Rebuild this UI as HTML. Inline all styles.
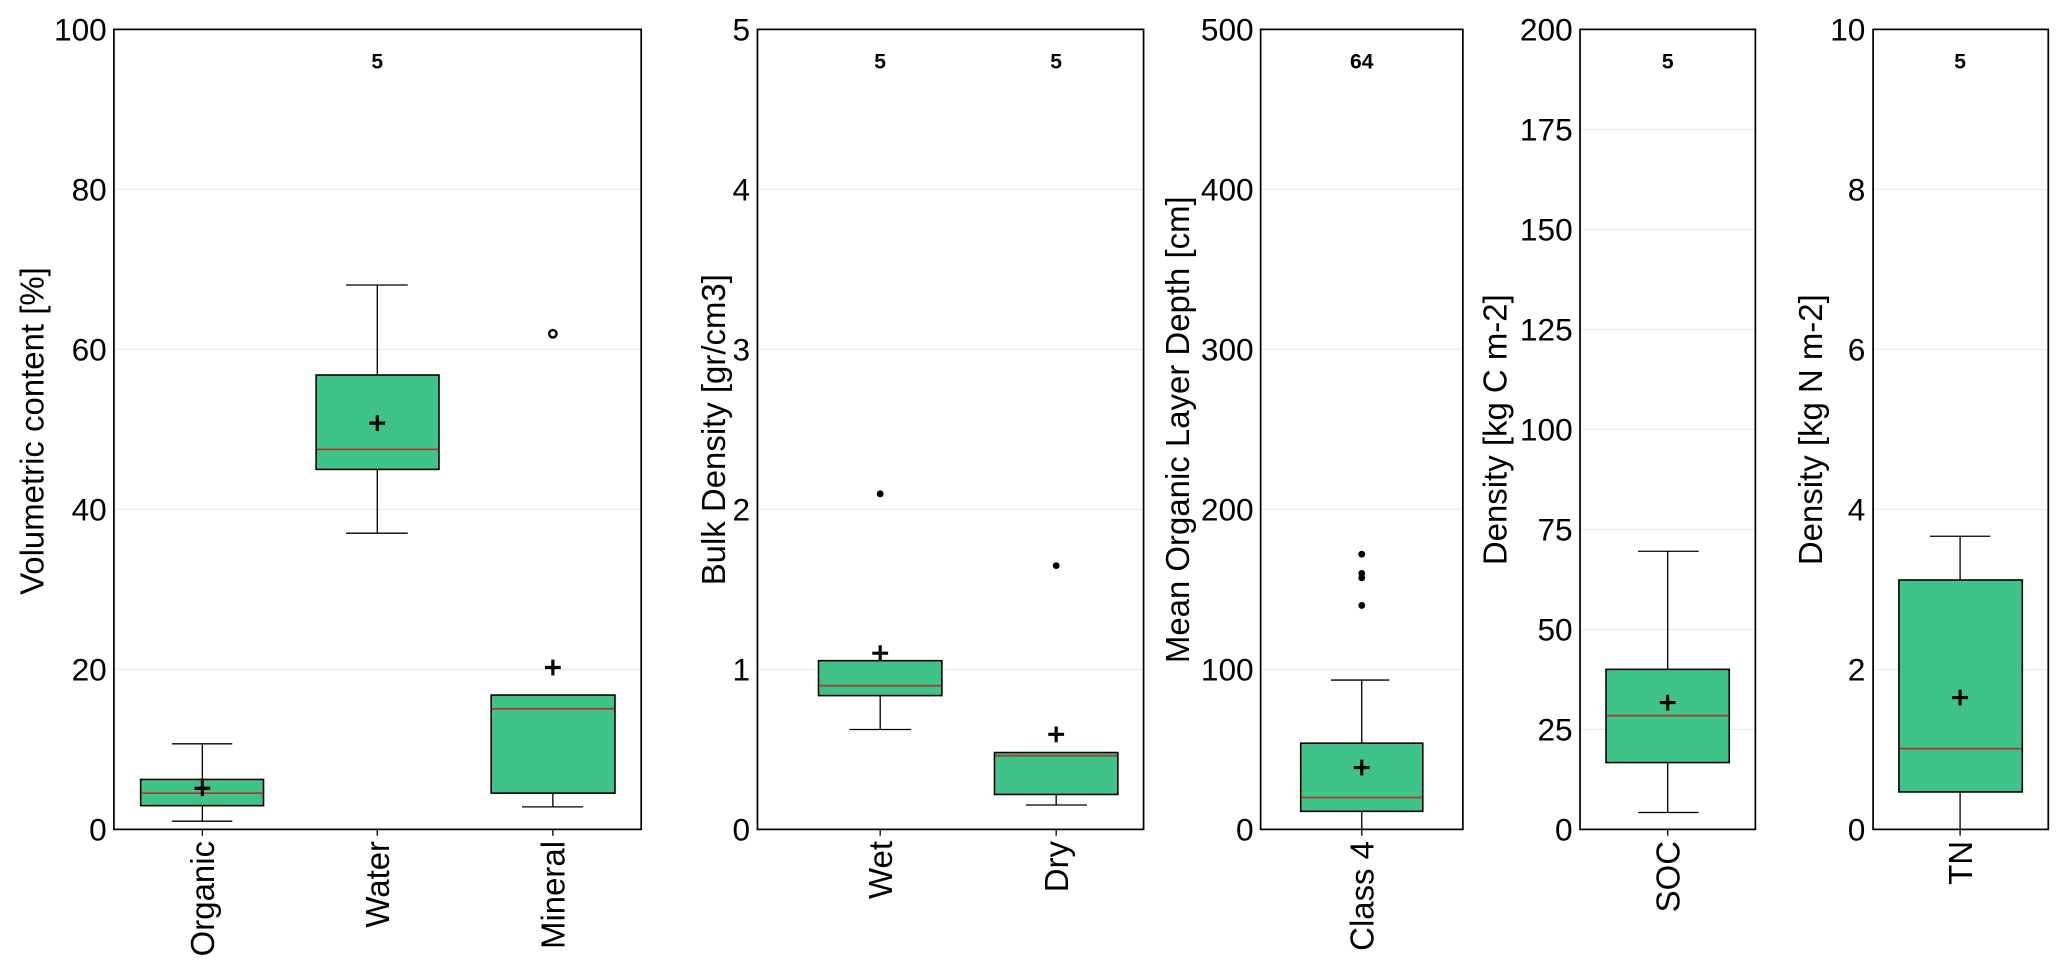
<!DOCTYPE html>
<html><head><meta charset="utf-8"><style>
html,body{margin:0;padding:0;background:#fff;}
svg{display:block;}
text{font-family:"Liberation Sans",Arial,sans-serif;fill:#000;}
.t{font-size:24px;text-anchor:end;dominant-baseline:central;}
.lab{font-size:25px;}
.n{font-size:16px;font-weight:bold;text-anchor:middle;}
.g{stroke:#ececec;stroke-width:1;}
.ax{fill:none;stroke:#000;stroke-width:1.3;}
.bx{fill:#40c389;stroke:#000;stroke-width:1.2;}
.md{stroke:#a0402d;stroke-width:1.4;}
.w{stroke:#000;stroke-width:1;}
.m{stroke:#000;stroke-width:2.4;}
</style></head><body>
<svg width="2067" height="979" viewBox="0 0 1568 742.7" preserveAspectRatio="none" xmlns="http://www.w3.org/2000/svg">
<rect width="1568" height="742.7" fill="#fff"/>

<!-- Panel 1 -->
<g class="g"><line x1="87" x2="486" y1="507.8" y2="507.8"/><line x1="87" x2="486" y1="386.4" y2="386.4"/><line x1="87" x2="486" y1="265" y2="265"/><line x1="87" x2="486" y1="143.6" y2="143.6"/></g>
<text class="t" x="81" y="629.2">0</text><text class="t" x="81" y="507.8">20</text><text class="t" x="81" y="386.4">40</text><text class="t" x="81" y="265">60</text><text class="t" x="81" y="143.6">80</text><text class="t" x="81" y="22.3">100</text>
<text class="lab" transform="translate(33,327) rotate(-90)" text-anchor="middle">Volumetric content [%]</text>
<text class="n" x="286.2" y="52">5</text>
<!-- Organic -->
<line class="w" x1="153.5" x2="153.5" y1="564.3" y2="623"/><line class="w" x1="130.4" x2="176.2" y1="564.3" y2="564.3"/><line class="w" x1="130.4" x2="176.2" y1="623" y2="623"/>
<rect class="bx" x="106.7" y="591.3" width="93.2" height="19.9"/><line class="md" x1="107" x2="199.6" y1="601.7" y2="601.7"/>
<g class="m"><line x1="147.5" x2="159.5" y1="598" y2="598"/><line x1="153.5" x2="153.5" y1="592" y2="604"/></g>
<!-- Water -->
<line class="w" x1="286.2" x2="286.2" y1="216.2" y2="404.5"/><line class="w" x1="262.5" x2="309.3" y1="216.2" y2="216.2"/><line class="w" x1="262.5" x2="309.3" y1="404.5" y2="404.5"/>
<rect class="bx" x="239.8" y="284.5" width="93.2" height="71.6"/><line class="md" x1="240.1" x2="332.7" y1="340.9" y2="340.9"/>
<g class="m"><line x1="280.2" x2="292.2" y1="321" y2="321"/><line x1="286.2" x2="286.2" y1="315" y2="327"/></g>
<!-- Mineral -->
<line class="w" x1="419.4" x2="419.4" y1="601.7" y2="612.1"/><line class="w" x1="396" x2="442.4" y1="612.1" y2="612.1"/>
<rect class="bx" x="372.6" y="527.3" width="93.9" height="74.4"/><line class="md" x1="372.9" x2="466.2" y1="537.7" y2="537.7"/>
<circle cx="419.4" cy="253.2" r="2.8" fill="none" stroke="#000" stroke-width="1.8"/>
<g class="m"><line x1="413.4" x2="425.4" y1="506.4" y2="506.4"/><line x1="419.4" x2="419.4" y1="500.4" y2="512.4"/></g>
<rect class="ax" x="86.4" y="22.3" width="400" height="606.9"/>
<g class="w"><line x1="153.5" x2="153.5" y1="629.2" y2="634"/><line x1="286.2" x2="286.2" y1="629.2" y2="634"/><line x1="419.4" x2="419.4" y1="629.2" y2="634"/></g>
<text class="lab" transform="translate(162.5,638) rotate(-90)" text-anchor="end">Organic</text>
<text class="lab" transform="translate(295.2,638) rotate(-90)" text-anchor="end">Water</text>
<text class="lab" transform="translate(428.4,638) rotate(-90)" text-anchor="end">Mineral</text>

<!-- Panel 2 -->
<g class="g"><line x1="575" x2="867" y1="507.8" y2="507.8"/><line x1="575" x2="867" y1="386.4" y2="386.4"/><line x1="575" x2="867" y1="265" y2="265"/><line x1="575" x2="867" y1="143.6" y2="143.6"/></g>
<text class="t" x="569" y="629.2">0</text><text class="t" x="569" y="507.8">1</text><text class="t" x="569" y="386.4">2</text><text class="t" x="569" y="265">3</text><text class="t" x="569" y="143.6">4</text><text class="t" x="569" y="22.3">5</text>
<text class="lab" transform="translate(550,326) rotate(-90)" text-anchor="middle">Bulk Density [gr/cm3]</text>
<text class="n" x="667.7" y="52">5</text><text class="n" x="801.2" y="52">5</text>
<!-- Wet -->
<line class="w" x1="667.7" x2="667.7" y1="527.7" y2="553.4"/><line class="w" x1="644.4" x2="691.2" y1="553.4" y2="553.4"/>
<rect class="bx" x="620.9" y="501.2" width="93.6" height="26.5"/><line class="md" x1="621.2" x2="714.2" y1="520.2" y2="520.2"/>
<circle cx="667.7" cy="374.6" r="2.6" fill="#000"/>
<g class="m"><line x1="661.7" x2="673.7" y1="495.5" y2="495.5"/><line x1="667.7" x2="667.7" y1="489.5" y2="501.5"/></g>
<!-- Dry -->
<line class="w" x1="801.2" x2="801.2" y1="602.7" y2="610.7"/><line class="w" x1="778.2" x2="824.5" y1="610.7" y2="610.7"/>
<rect class="bx" x="754.4" y="570.9" width="93.6" height="31.8"/><line class="md" x1="754.7" x2="847.7" y1="573.3" y2="573.3"/>
<circle cx="801.2" cy="429.1" r="2.6" fill="#000"/>
<g class="m"><line x1="795.2" x2="807.2" y1="557.1" y2="557.1"/><line x1="801.2" x2="801.2" y1="551.1" y2="563.1"/></g>
<rect class="ax" x="574.6" y="22.3" width="292.9" height="606.9"/>
<g class="w"><line x1="667.7" x2="667.7" y1="629.2" y2="634"/><line x1="801.2" x2="801.2" y1="629.2" y2="634"/></g>
<text class="lab" transform="translate(676.7,638) rotate(-90)" text-anchor="end">Wet</text>
<text class="lab" transform="translate(810.2,638) rotate(-90)" text-anchor="end">Dry</text>

<!-- Panel 3 -->
<g class="g"><line x1="957" x2="1109" y1="507.8" y2="507.8"/><line x1="957" x2="1109" y1="386.4" y2="386.4"/><line x1="957" x2="1109" y1="265" y2="265"/><line x1="957" x2="1109" y1="143.6" y2="143.6"/></g>
<text class="t" x="951" y="629.2">0</text><text class="t" x="951" y="507.8">100</text><text class="t" x="951" y="386.4">200</text><text class="t" x="951" y="265">300</text><text class="t" x="951" y="143.6">400</text><text class="t" x="951" y="22.3">500</text>
<text class="lab" transform="translate(902,326) rotate(-90)" text-anchor="middle">Mean Organic Layer Depth [cm]</text>
<text class="n" x="1033" y="52">64</text>
<line class="w" x1="1033" x2="1033" y1="515.9" y2="563.8"/><line class="w" x1="1009.6" x2="1053.9" y1="515.9" y2="515.9"/>
<line class="w" x1="1033" x2="1033" y1="615.5" y2="629.2"/>
<rect class="bx" x="986.7" y="563.8" width="92.6" height="51.7"/><line class="md" x1="987" x2="1079" y1="605" y2="605"/>
<circle cx="1033" cy="420.4" r="2.6" fill="#000"/><circle cx="1033" cy="435" r="2.6" fill="#000"/><circle cx="1033" cy="438.4" r="2.6" fill="#000"/><circle cx="1033" cy="459.3" r="2.6" fill="#000"/>
<g class="m"><line x1="1027" x2="1039" y1="582.3" y2="582.3"/><line x1="1033" x2="1033" y1="576.3" y2="588.3"/></g>
<rect class="ax" x="956.3" y="22.3" width="153.4" height="606.9"/>
<line class="w" x1="1033" x2="1033" y1="629.2" y2="634"/>
<text class="lab" transform="translate(1042,638) rotate(-90)" text-anchor="end">Class 4</text>

<!-- Panel 4 -->
<g class="g"><line x1="1199" x2="1331" y1="553.3" y2="553.3"/><line x1="1199" x2="1331" y1="477.5" y2="477.5"/><line x1="1199" x2="1331" y1="401.6" y2="401.6"/><line x1="1199" x2="1331" y1="325.7" y2="325.7"/><line x1="1199" x2="1331" y1="249.9" y2="249.9"/><line x1="1199" x2="1331" y1="174" y2="174"/><line x1="1199" x2="1331" y1="98.1" y2="98.1"/></g>
<text class="t" x="1193" y="629.2">0</text><text class="t" x="1193" y="553.3">25</text><text class="t" x="1193" y="477.5">50</text><text class="t" x="1193" y="401.6">75</text><text class="t" x="1193" y="325.7">100</text><text class="t" x="1193" y="249.9">125</text><text class="t" x="1193" y="174">150</text><text class="t" x="1193" y="98.1">175</text><text class="t" x="1193" y="22.3">200</text>
<text class="lab" transform="translate(1143,326) rotate(-90)" text-anchor="middle">Density [kg C m-2]</text>
<text class="n" x="1265.1" y="52">5</text>
<line class="w" x1="1265.1" x2="1265.1" y1="418.2" y2="616.4"/><line class="w" x1="1242.6" x2="1288.5" y1="418.2" y2="418.2"/><line class="w" x1="1242.6" x2="1288.5" y1="616.4" y2="616.4"/>
<rect class="bx" x="1218.3" y="507.8" width="93.5" height="70.7"/><line class="md" x1="1218.6" x2="1311.5" y1="542.9" y2="542.9"/>
<g class="m"><line x1="1259.1" x2="1271.1" y1="533" y2="533"/><line x1="1265.1" x2="1265.1" y1="527" y2="539"/></g>
<rect class="ax" x="1198.6" y="22.3" width="133" height="606.9"/>
<line class="w" x1="1265.1" x2="1265.1" y1="629.2" y2="634"/>
<text class="lab" transform="translate(1274.1,638) rotate(-90)" text-anchor="end">SOC</text>

<!-- Panel 5 -->
<g class="g"><line x1="1421" x2="1553" y1="507.8" y2="507.8"/><line x1="1421" x2="1553" y1="386.4" y2="386.4"/><line x1="1421" x2="1553" y1="265" y2="265"/><line x1="1421" x2="1553" y1="143.6" y2="143.6"/></g>
<text class="t" x="1415" y="629.2">0</text><text class="t" x="1415" y="507.8">2</text><text class="t" x="1415" y="386.4">4</text><text class="t" x="1415" y="265">6</text><text class="t" x="1415" y="143.6">8</text><text class="t" x="1415" y="22.3">10</text>
<text class="lab" transform="translate(1382,326) rotate(-90)" text-anchor="middle">Density [kg N m-2]</text>
<text class="n" x="1486.9" y="52">5</text>
<line class="w" x1="1486.9" x2="1486.9" y1="406.8" y2="629.2"/><line class="w" x1="1464" x2="1509.8" y1="406.8" y2="406.8"/>
<rect class="bx" x="1440.5" y="440" width="93.6" height="160.8"/><line class="md" x1="1440.8" x2="1533.8" y1="568" y2="568"/>
<g class="m"><line x1="1480.9" x2="1492.9" y1="529.2" y2="529.2"/><line x1="1486.9" x2="1486.9" y1="523.2" y2="535.2"/></g>
<rect class="ax" x="1420.9" y="22.3" width="132.9" height="606.9"/>
<line class="w" x1="1486.9" x2="1486.9" y1="629.2" y2="634"/>
<text class="lab" transform="translate(1495.9,638) rotate(-90)" text-anchor="end">TN</text>
</svg>
</body></html>
